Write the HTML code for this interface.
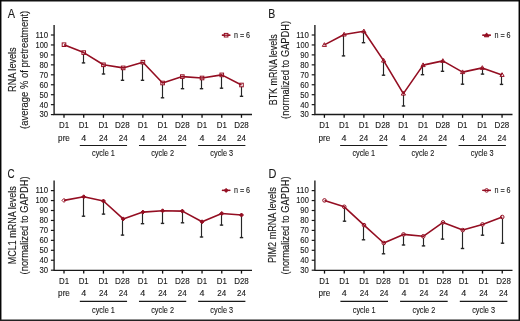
<!DOCTYPE html>
<html><head><meta charset="utf-8"><style>
html,body{margin:0;padding:0;background:#fff;}
body{width:520px;height:321px;overflow:hidden;}
svg{display:block;will-change:transform;font-family:"Liberation Sans",sans-serif;}
text{fill:#1a1a1a;stroke:#1a1a1a;stroke-width:0.12px;}
</style></head><body>
<svg width="520" height="321" viewBox="0 0 520 321">
<rect x="0" y="0" width="520" height="321" fill="#fff"/>
<path d="M54.1,25 V114.5 H252" fill="none" stroke="#1a1a1a" stroke-width="1.35"/>
<path d="M50.90,35.00 H54.1" stroke="#1a1a1a" stroke-width="1.2"/>
<text x="48.00" y="37.85" font-size="8.6" text-anchor="end" textLength="12.5" lengthAdjust="spacingAndGlyphs">110</text>
<path d="M50.90,44.95 H54.1" stroke="#1a1a1a" stroke-width="1.2"/>
<text x="48.00" y="47.80" font-size="8.6" text-anchor="end" textLength="12.5" lengthAdjust="spacingAndGlyphs">100</text>
<path d="M50.90,54.90 H54.1" stroke="#1a1a1a" stroke-width="1.2"/>
<text x="48.00" y="57.75" font-size="8.6" text-anchor="end" textLength="8.6" lengthAdjust="spacingAndGlyphs">90</text>
<path d="M50.90,64.85 H54.1" stroke="#1a1a1a" stroke-width="1.2"/>
<text x="48.00" y="67.70" font-size="8.6" text-anchor="end" textLength="8.6" lengthAdjust="spacingAndGlyphs">80</text>
<path d="M50.90,74.80 H54.1" stroke="#1a1a1a" stroke-width="1.2"/>
<text x="48.00" y="77.65" font-size="8.6" text-anchor="end" textLength="8.6" lengthAdjust="spacingAndGlyphs">70</text>
<path d="M50.90,84.75 H54.1" stroke="#1a1a1a" stroke-width="1.2"/>
<text x="48.00" y="87.60" font-size="8.6" text-anchor="end" textLength="8.6" lengthAdjust="spacingAndGlyphs">60</text>
<path d="M50.90,94.70 H54.1" stroke="#1a1a1a" stroke-width="1.2"/>
<text x="48.00" y="97.55" font-size="8.6" text-anchor="end" textLength="8.6" lengthAdjust="spacingAndGlyphs">50</text>
<path d="M50.90,104.65 H54.1" stroke="#1a1a1a" stroke-width="1.2"/>
<text x="48.00" y="107.50" font-size="8.6" text-anchor="end" textLength="8.6" lengthAdjust="spacingAndGlyphs">40</text>
<path d="M50.90,114.60 H54.1" stroke="#1a1a1a" stroke-width="1.2"/>
<text x="48.00" y="117.45" font-size="8.6" text-anchor="end" textLength="8.6" lengthAdjust="spacingAndGlyphs">30</text>
<path d="M64.00,114.5 V117.80" stroke="#111" stroke-width="1.3"/>
<text x="64.00" y="128.40" font-size="8.6" text-anchor="middle" textLength="10.1" lengthAdjust="spacingAndGlyphs">D1</text>
<text x="64.00" y="141.00" font-size="8.6" text-anchor="middle" textLength="11.8" lengthAdjust="spacingAndGlyphs">pre</text>
<path d="M83.72,114.5 V117.80" stroke="#111" stroke-width="1.3"/>
<text x="83.72" y="128.40" font-size="8.6" text-anchor="middle" textLength="10.1" lengthAdjust="spacingAndGlyphs">D1</text>
<text x="83.72" y="141.00" font-size="8.6" text-anchor="middle" textLength="5.0" lengthAdjust="spacingAndGlyphs">4</text>
<path d="M103.44,114.5 V117.80" stroke="#111" stroke-width="1.3"/>
<text x="103.44" y="128.40" font-size="8.6" text-anchor="middle" textLength="10.1" lengthAdjust="spacingAndGlyphs">D1</text>
<text x="103.44" y="141.00" font-size="8.6" text-anchor="middle" textLength="8.9" lengthAdjust="spacingAndGlyphs">24</text>
<path d="M123.16,114.5 V117.80" stroke="#111" stroke-width="1.3"/>
<text x="122.36" y="128.40" font-size="8.6" text-anchor="middle" textLength="14.7" lengthAdjust="spacingAndGlyphs">D28</text>
<text x="123.16" y="141.00" font-size="8.6" text-anchor="middle" textLength="8.9" lengthAdjust="spacingAndGlyphs">24</text>
<path d="M142.88,114.5 V117.80" stroke="#111" stroke-width="1.3"/>
<text x="142.88" y="128.40" font-size="8.6" text-anchor="middle" textLength="10.1" lengthAdjust="spacingAndGlyphs">D1</text>
<text x="142.88" y="141.00" font-size="8.6" text-anchor="middle" textLength="5.0" lengthAdjust="spacingAndGlyphs">4</text>
<path d="M162.60,114.5 V117.80" stroke="#111" stroke-width="1.3"/>
<text x="162.60" y="128.40" font-size="8.6" text-anchor="middle" textLength="10.1" lengthAdjust="spacingAndGlyphs">D1</text>
<text x="162.60" y="141.00" font-size="8.6" text-anchor="middle" textLength="8.9" lengthAdjust="spacingAndGlyphs">24</text>
<path d="M182.32,114.5 V117.80" stroke="#111" stroke-width="1.3"/>
<text x="182.32" y="128.40" font-size="8.6" text-anchor="middle" textLength="14.7" lengthAdjust="spacingAndGlyphs">D28</text>
<text x="182.32" y="141.00" font-size="8.6" text-anchor="middle" textLength="8.9" lengthAdjust="spacingAndGlyphs">24</text>
<path d="M202.04,114.5 V117.80" stroke="#111" stroke-width="1.3"/>
<text x="202.04" y="128.40" font-size="8.6" text-anchor="middle" textLength="10.1" lengthAdjust="spacingAndGlyphs">D1</text>
<text x="202.04" y="141.00" font-size="8.6" text-anchor="middle" textLength="5.0" lengthAdjust="spacingAndGlyphs">4</text>
<path d="M221.76,114.5 V117.80" stroke="#111" stroke-width="1.3"/>
<text x="221.76" y="128.40" font-size="8.6" text-anchor="middle" textLength="10.1" lengthAdjust="spacingAndGlyphs">D1</text>
<text x="221.76" y="141.00" font-size="8.6" text-anchor="middle" textLength="8.9" lengthAdjust="spacingAndGlyphs">24</text>
<path d="M241.48,114.5 V117.80" stroke="#111" stroke-width="1.3"/>
<text x="241.48" y="128.40" font-size="8.6" text-anchor="middle" textLength="14.7" lengthAdjust="spacingAndGlyphs">D28</text>
<text x="241.48" y="141.00" font-size="8.6" text-anchor="middle" textLength="8.9" lengthAdjust="spacingAndGlyphs">24</text>
<path d="M79.82,145.50 H127.06" stroke="#1a1a1a" stroke-width="1.1"/>
<text x="103.44" y="155.80" font-size="8.6" text-anchor="middle" textLength="22.8" lengthAdjust="spacingAndGlyphs">cycle 1</text>
<path d="M138.98,145.50 H186.22" stroke="#1a1a1a" stroke-width="1.1"/>
<text x="162.60" y="155.80" font-size="8.6" text-anchor="middle" textLength="22.8" lengthAdjust="spacingAndGlyphs">cycle 2</text>
<path d="M198.14,145.50 H245.38" stroke="#1a1a1a" stroke-width="1.1"/>
<text x="221.76" y="155.80" font-size="8.6" text-anchor="middle" textLength="22.8" lengthAdjust="spacingAndGlyphs">cycle 3</text>
<path d="M83.50,52.60 V63.10" stroke="#262626" stroke-width="1.15" fill="none"/>
<path d="M81.80,62.90 H85.20" stroke="#262626" stroke-width="1.4" fill="none"/>
<path d="M103.50,64.80 V74.20" stroke="#262626" stroke-width="1.15" fill="none"/>
<path d="M101.80,74.00 H105.20" stroke="#262626" stroke-width="1.4" fill="none"/>
<path d="M122.50,67.90 V80.50" stroke="#262626" stroke-width="1.15" fill="none"/>
<path d="M120.80,80.30 H124.20" stroke="#262626" stroke-width="1.4" fill="none"/>
<path d="M142.50,62.20 V80.50" stroke="#262626" stroke-width="1.15" fill="none"/>
<path d="M140.80,80.30 H144.20" stroke="#262626" stroke-width="1.4" fill="none"/>
<path d="M162.50,83.00 V98.00" stroke="#262626" stroke-width="1.15" fill="none"/>
<path d="M160.80,97.80 H164.20" stroke="#262626" stroke-width="1.4" fill="none"/>
<path d="M182.50,76.60 V88.90" stroke="#262626" stroke-width="1.15" fill="none"/>
<path d="M180.80,88.70 H184.20" stroke="#262626" stroke-width="1.4" fill="none"/>
<path d="M201.50,78.00 V88.90" stroke="#262626" stroke-width="1.15" fill="none"/>
<path d="M199.80,88.70 H203.20" stroke="#262626" stroke-width="1.4" fill="none"/>
<path d="M221.50,74.90 V88.40" stroke="#262626" stroke-width="1.15" fill="none"/>
<path d="M219.80,88.20 H223.20" stroke="#262626" stroke-width="1.4" fill="none"/>
<path d="M241.50,85.00 V96.50" stroke="#262626" stroke-width="1.15" fill="none"/>
<path d="M239.80,96.30 H243.20" stroke="#262626" stroke-width="1.4" fill="none"/>
<rect x="62.20" y="42.90" width="3.6" height="3.6" fill="#fff" stroke="#940e22" stroke-width="1"/>
<rect x="81.92" y="50.80" width="3.6" height="3.6" fill="#fff" stroke="#940e22" stroke-width="1"/>
<rect x="101.64" y="63.00" width="3.6" height="3.6" fill="#fff" stroke="#940e22" stroke-width="1"/>
<rect x="121.36" y="66.10" width="3.6" height="3.6" fill="#fff" stroke="#940e22" stroke-width="1"/>
<rect x="141.08" y="60.40" width="3.6" height="3.6" fill="#fff" stroke="#940e22" stroke-width="1"/>
<rect x="160.80" y="81.20" width="3.6" height="3.6" fill="#fff" stroke="#940e22" stroke-width="1"/>
<rect x="180.52" y="74.80" width="3.6" height="3.6" fill="#fff" stroke="#940e22" stroke-width="1"/>
<rect x="200.24" y="76.20" width="3.6" height="3.6" fill="#fff" stroke="#940e22" stroke-width="1"/>
<rect x="219.96" y="73.10" width="3.6" height="3.6" fill="#fff" stroke="#940e22" stroke-width="1"/>
<rect x="239.68" y="83.20" width="3.6" height="3.6" fill="#fff" stroke="#940e22" stroke-width="1"/>
<path d="M64.00,44.70 L83.72,52.60 L103.44,64.80 L123.16,67.90 L142.88,62.20 L162.60,83.00 L182.32,76.60 L202.04,78.00 L221.76,74.90 L241.48,85.00" fill="none" stroke="#940e22" stroke-width="1.6" stroke-linejoin="round"/>
<path d="M221.90,35.20 H230.30" stroke="#940e22" stroke-width="1.3"/>
<rect x="224.30" y="33.40" width="3.6" height="3.6" fill="#fff" stroke="#940e22" stroke-width="1"/>
<path d="M221.90,35.20 H230.30" stroke="#940e22" stroke-width="1.3"/>
<text x="233.90" y="37.80" font-size="8.6" text-anchor="start" textLength="16.2" lengthAdjust="spacingAndGlyphs">n = 6</text>
<text transform="translate(15.80,69.62) rotate(-90)" font-size="10.2" text-anchor="middle" textLength="44.55" lengthAdjust="spacingAndGlyphs">RNA levels</text>
<text transform="translate(27.80,69.88) rotate(-90)" font-size="10.2" text-anchor="middle" textLength="118.05" lengthAdjust="spacingAndGlyphs">(average % of pretreatment)</text>
<text x="7.7" y="17.6" font-size="12.4" textLength="7.3" lengthAdjust="spacingAndGlyphs">A</text>
<path d="M314.9,25 V114.5 H512.5" fill="none" stroke="#1a1a1a" stroke-width="1.35"/>
<path d="M311.70,35.00 H314.9" stroke="#1a1a1a" stroke-width="1.2"/>
<text x="308.80" y="37.85" font-size="8.6" text-anchor="end" textLength="12.5" lengthAdjust="spacingAndGlyphs">110</text>
<path d="M311.70,44.95 H314.9" stroke="#1a1a1a" stroke-width="1.2"/>
<text x="308.80" y="47.80" font-size="8.6" text-anchor="end" textLength="12.5" lengthAdjust="spacingAndGlyphs">100</text>
<path d="M311.70,54.90 H314.9" stroke="#1a1a1a" stroke-width="1.2"/>
<text x="308.80" y="57.75" font-size="8.6" text-anchor="end" textLength="8.6" lengthAdjust="spacingAndGlyphs">90</text>
<path d="M311.70,64.85 H314.9" stroke="#1a1a1a" stroke-width="1.2"/>
<text x="308.80" y="67.70" font-size="8.6" text-anchor="end" textLength="8.6" lengthAdjust="spacingAndGlyphs">80</text>
<path d="M311.70,74.80 H314.9" stroke="#1a1a1a" stroke-width="1.2"/>
<text x="308.80" y="77.65" font-size="8.6" text-anchor="end" textLength="8.6" lengthAdjust="spacingAndGlyphs">70</text>
<path d="M311.70,84.75 H314.9" stroke="#1a1a1a" stroke-width="1.2"/>
<text x="308.80" y="87.60" font-size="8.6" text-anchor="end" textLength="8.6" lengthAdjust="spacingAndGlyphs">60</text>
<path d="M311.70,94.70 H314.9" stroke="#1a1a1a" stroke-width="1.2"/>
<text x="308.80" y="97.55" font-size="8.6" text-anchor="end" textLength="8.6" lengthAdjust="spacingAndGlyphs">50</text>
<path d="M311.70,104.65 H314.9" stroke="#1a1a1a" stroke-width="1.2"/>
<text x="308.80" y="107.50" font-size="8.6" text-anchor="end" textLength="8.6" lengthAdjust="spacingAndGlyphs">40</text>
<path d="M311.70,114.60 H314.9" stroke="#1a1a1a" stroke-width="1.2"/>
<text x="308.80" y="117.45" font-size="8.6" text-anchor="end" textLength="8.6" lengthAdjust="spacingAndGlyphs">30</text>
<path d="M324.40,114.5 V117.80" stroke="#111" stroke-width="1.3"/>
<text x="324.30" y="128.40" font-size="8.6" text-anchor="middle" textLength="10.1" lengthAdjust="spacingAndGlyphs">D1</text>
<text x="324.30" y="141.00" font-size="8.6" text-anchor="middle" textLength="11.8" lengthAdjust="spacingAndGlyphs">pre</text>
<path d="M344.14,114.5 V117.80" stroke="#111" stroke-width="1.3"/>
<text x="344.04" y="128.40" font-size="8.6" text-anchor="middle" textLength="10.1" lengthAdjust="spacingAndGlyphs">D1</text>
<text x="344.04" y="141.00" font-size="8.6" text-anchor="middle" textLength="5.0" lengthAdjust="spacingAndGlyphs">4</text>
<path d="M363.88,114.5 V117.80" stroke="#111" stroke-width="1.3"/>
<text x="363.78" y="128.40" font-size="8.6" text-anchor="middle" textLength="10.1" lengthAdjust="spacingAndGlyphs">D1</text>
<text x="363.78" y="141.00" font-size="8.6" text-anchor="middle" textLength="8.9" lengthAdjust="spacingAndGlyphs">24</text>
<path d="M383.62,114.5 V117.80" stroke="#111" stroke-width="1.3"/>
<text x="382.72" y="128.40" font-size="8.6" text-anchor="middle" textLength="14.7" lengthAdjust="spacingAndGlyphs">D28</text>
<text x="383.52" y="141.00" font-size="8.6" text-anchor="middle" textLength="8.9" lengthAdjust="spacingAndGlyphs">24</text>
<path d="M403.36,114.5 V117.80" stroke="#111" stroke-width="1.3"/>
<text x="403.26" y="128.40" font-size="8.6" text-anchor="middle" textLength="10.1" lengthAdjust="spacingAndGlyphs">D1</text>
<text x="403.26" y="141.00" font-size="8.6" text-anchor="middle" textLength="5.0" lengthAdjust="spacingAndGlyphs">4</text>
<path d="M423.10,114.5 V117.80" stroke="#111" stroke-width="1.3"/>
<text x="423.00" y="128.40" font-size="8.6" text-anchor="middle" textLength="10.1" lengthAdjust="spacingAndGlyphs">D1</text>
<text x="423.00" y="141.00" font-size="8.6" text-anchor="middle" textLength="8.9" lengthAdjust="spacingAndGlyphs">24</text>
<path d="M442.84,114.5 V117.80" stroke="#111" stroke-width="1.3"/>
<text x="442.74" y="128.40" font-size="8.6" text-anchor="middle" textLength="14.7" lengthAdjust="spacingAndGlyphs">D28</text>
<text x="442.74" y="141.00" font-size="8.6" text-anchor="middle" textLength="8.9" lengthAdjust="spacingAndGlyphs">24</text>
<path d="M462.58,114.5 V117.80" stroke="#111" stroke-width="1.3"/>
<text x="462.48" y="128.40" font-size="8.6" text-anchor="middle" textLength="10.1" lengthAdjust="spacingAndGlyphs">D1</text>
<text x="462.48" y="141.00" font-size="8.6" text-anchor="middle" textLength="5.0" lengthAdjust="spacingAndGlyphs">4</text>
<path d="M482.32,114.5 V117.80" stroke="#111" stroke-width="1.3"/>
<text x="482.22" y="128.40" font-size="8.6" text-anchor="middle" textLength="10.1" lengthAdjust="spacingAndGlyphs">D1</text>
<text x="482.22" y="141.00" font-size="8.6" text-anchor="middle" textLength="8.9" lengthAdjust="spacingAndGlyphs">24</text>
<path d="M502.06,114.5 V117.80" stroke="#111" stroke-width="1.3"/>
<text x="501.96" y="128.40" font-size="8.6" text-anchor="middle" textLength="14.7" lengthAdjust="spacingAndGlyphs">D28</text>
<text x="501.96" y="141.00" font-size="8.6" text-anchor="middle" textLength="8.9" lengthAdjust="spacingAndGlyphs">24</text>
<path d="M340.14,145.50 H387.42" stroke="#1a1a1a" stroke-width="1.1"/>
<text x="363.78" y="155.80" font-size="8.6" text-anchor="middle" textLength="22.8" lengthAdjust="spacingAndGlyphs">cycle 1</text>
<path d="M399.36,145.50 H446.64" stroke="#1a1a1a" stroke-width="1.1"/>
<text x="423.00" y="155.80" font-size="8.6" text-anchor="middle" textLength="22.8" lengthAdjust="spacingAndGlyphs">cycle 2</text>
<path d="M458.58,145.50 H505.86" stroke="#1a1a1a" stroke-width="1.1"/>
<text x="482.22" y="155.80" font-size="8.6" text-anchor="middle" textLength="22.8" lengthAdjust="spacingAndGlyphs">cycle 3</text>
<path d="M343.50,34.50 V56.10" stroke="#262626" stroke-width="1.15" fill="none"/>
<path d="M341.80,55.90 H345.20" stroke="#262626" stroke-width="1.4" fill="none"/>
<path d="M363.50,31.30 V42.90" stroke="#262626" stroke-width="1.15" fill="none"/>
<path d="M361.80,42.70 H365.20" stroke="#262626" stroke-width="1.4" fill="none"/>
<path d="M383.50,60.60 V75.40" stroke="#262626" stroke-width="1.15" fill="none"/>
<path d="M381.80,75.20 H385.20" stroke="#262626" stroke-width="1.4" fill="none"/>
<path d="M403.50,93.60 V106.20" stroke="#262626" stroke-width="1.15" fill="none"/>
<path d="M401.80,106.00 H405.20" stroke="#262626" stroke-width="1.4" fill="none"/>
<path d="M422.50,65.10 V74.90" stroke="#262626" stroke-width="1.15" fill="none"/>
<path d="M420.80,74.70 H424.20" stroke="#262626" stroke-width="1.4" fill="none"/>
<path d="M442.50,60.90 V71.50" stroke="#262626" stroke-width="1.15" fill="none"/>
<path d="M440.80,71.30 H444.20" stroke="#262626" stroke-width="1.4" fill="none"/>
<path d="M462.50,72.10 V84.40" stroke="#262626" stroke-width="1.15" fill="none"/>
<path d="M460.80,84.20 H464.20" stroke="#262626" stroke-width="1.4" fill="none"/>
<path d="M482.50,67.90 V74.30" stroke="#262626" stroke-width="1.15" fill="none"/>
<path d="M480.80,74.10 H484.20" stroke="#262626" stroke-width="1.4" fill="none"/>
<path d="M501.50,74.90 V84.60" stroke="#262626" stroke-width="1.15" fill="none"/>
<path d="M499.80,84.40 H503.20" stroke="#262626" stroke-width="1.4" fill="none"/>
<path d="M324.40,42.70 L326.50,46.40 L322.30,46.40 Z" fill="#fff" stroke="#940e22" stroke-width="1"/>
<path d="M344.14,32.30 L346.24,36.00 L342.04,36.00 Z" fill="#fff" stroke="#940e22" stroke-width="1"/>
<path d="M363.88,29.10 L365.98,32.80 L361.78,32.80 Z" fill="#fff" stroke="#940e22" stroke-width="1"/>
<path d="M383.62,58.40 L385.72,62.10 L381.52,62.10 Z" fill="#fff" stroke="#940e22" stroke-width="1"/>
<path d="M403.36,91.40 L405.46,95.10 L401.26,95.10 Z" fill="#fff" stroke="#940e22" stroke-width="1"/>
<path d="M423.10,62.90 L425.20,66.60 L421.00,66.60 Z" fill="#fff" stroke="#940e22" stroke-width="1"/>
<path d="M442.84,58.70 L444.94,62.40 L440.74,62.40 Z" fill="#fff" stroke="#940e22" stroke-width="1"/>
<path d="M462.58,69.90 L464.68,73.60 L460.48,73.60 Z" fill="#fff" stroke="#940e22" stroke-width="1"/>
<path d="M482.32,65.70 L484.42,69.40 L480.22,69.40 Z" fill="#fff" stroke="#940e22" stroke-width="1"/>
<path d="M502.06,72.70 L504.16,76.40 L499.96,76.40 Z" fill="#fff" stroke="#940e22" stroke-width="1"/>
<path d="M324.40,44.90 L344.14,34.50 L363.88,31.30 L383.62,60.60 L403.36,93.60 L423.10,65.10 L442.84,60.90 L462.58,72.10 L482.32,67.90 L502.06,74.90" fill="none" stroke="#940e22" stroke-width="1.6" stroke-linejoin="round"/>
<path d="M482.40,35.20 H490.80" stroke="#940e22" stroke-width="1.3"/>
<path d="M486.60,32.90 L488.90,36.80 L484.30,36.80 Z" fill="#940e22" stroke="#940e22" stroke-width="1"/>
<path d="M482.40,35.20 H490.80" stroke="#940e22" stroke-width="1.3"/>
<text x="494.40" y="37.80" font-size="8.6" text-anchor="start" textLength="16.2" lengthAdjust="spacingAndGlyphs">n = 6</text>
<text transform="translate(276.70,69.80) rotate(-90)" font-size="10.2" text-anchor="middle" textLength="71.00" lengthAdjust="spacingAndGlyphs">BTK mRNA levels</text>
<text transform="translate(288.60,69.85) rotate(-90)" font-size="10.2" text-anchor="middle" textLength="98.10" lengthAdjust="spacingAndGlyphs">(normalized to GAPDH)</text>
<text x="268.2" y="17.8" font-size="12.4" textLength="7.0" lengthAdjust="spacingAndGlyphs">B</text>
<path d="M54.1,180.6 V270.3 H252" fill="none" stroke="#1a1a1a" stroke-width="1.35"/>
<path d="M50.90,190.60 H54.1" stroke="#1a1a1a" stroke-width="1.2"/>
<text x="48.00" y="193.45" font-size="8.6" text-anchor="end" textLength="12.5" lengthAdjust="spacingAndGlyphs">110</text>
<path d="M50.90,200.55 H54.1" stroke="#1a1a1a" stroke-width="1.2"/>
<text x="48.00" y="203.40" font-size="8.6" text-anchor="end" textLength="12.5" lengthAdjust="spacingAndGlyphs">100</text>
<path d="M50.90,210.50 H54.1" stroke="#1a1a1a" stroke-width="1.2"/>
<text x="48.00" y="213.35" font-size="8.6" text-anchor="end" textLength="8.6" lengthAdjust="spacingAndGlyphs">90</text>
<path d="M50.90,220.45 H54.1" stroke="#1a1a1a" stroke-width="1.2"/>
<text x="48.00" y="223.30" font-size="8.6" text-anchor="end" textLength="8.6" lengthAdjust="spacingAndGlyphs">80</text>
<path d="M50.90,230.40 H54.1" stroke="#1a1a1a" stroke-width="1.2"/>
<text x="48.00" y="233.25" font-size="8.6" text-anchor="end" textLength="8.6" lengthAdjust="spacingAndGlyphs">70</text>
<path d="M50.90,240.35 H54.1" stroke="#1a1a1a" stroke-width="1.2"/>
<text x="48.00" y="243.20" font-size="8.6" text-anchor="end" textLength="8.6" lengthAdjust="spacingAndGlyphs">60</text>
<path d="M50.90,250.30 H54.1" stroke="#1a1a1a" stroke-width="1.2"/>
<text x="48.00" y="253.15" font-size="8.6" text-anchor="end" textLength="8.6" lengthAdjust="spacingAndGlyphs">50</text>
<path d="M50.90,260.25 H54.1" stroke="#1a1a1a" stroke-width="1.2"/>
<text x="48.00" y="263.10" font-size="8.6" text-anchor="end" textLength="8.6" lengthAdjust="spacingAndGlyphs">40</text>
<path d="M50.90,270.20 H54.1" stroke="#1a1a1a" stroke-width="1.2"/>
<text x="48.00" y="273.05" font-size="8.6" text-anchor="end" textLength="8.6" lengthAdjust="spacingAndGlyphs">30</text>
<path d="M64.00,270.3 V273.60" stroke="#111" stroke-width="1.3"/>
<text x="64.00" y="284.20" font-size="8.6" text-anchor="middle" textLength="10.1" lengthAdjust="spacingAndGlyphs">D1</text>
<text x="64.00" y="296.20" font-size="8.6" text-anchor="middle" textLength="11.8" lengthAdjust="spacingAndGlyphs">pre</text>
<path d="M83.72,270.3 V273.60" stroke="#111" stroke-width="1.3"/>
<text x="83.72" y="284.20" font-size="8.6" text-anchor="middle" textLength="10.1" lengthAdjust="spacingAndGlyphs">D1</text>
<text x="83.72" y="296.20" font-size="8.6" text-anchor="middle" textLength="5.0" lengthAdjust="spacingAndGlyphs">4</text>
<path d="M103.44,270.3 V273.60" stroke="#111" stroke-width="1.3"/>
<text x="103.44" y="284.20" font-size="8.6" text-anchor="middle" textLength="10.1" lengthAdjust="spacingAndGlyphs">D1</text>
<text x="103.44" y="296.20" font-size="8.6" text-anchor="middle" textLength="8.9" lengthAdjust="spacingAndGlyphs">24</text>
<path d="M123.16,270.3 V273.60" stroke="#111" stroke-width="1.3"/>
<text x="122.36" y="284.20" font-size="8.6" text-anchor="middle" textLength="14.7" lengthAdjust="spacingAndGlyphs">D28</text>
<text x="123.16" y="296.20" font-size="8.6" text-anchor="middle" textLength="8.9" lengthAdjust="spacingAndGlyphs">24</text>
<path d="M142.88,270.3 V273.60" stroke="#111" stroke-width="1.3"/>
<text x="142.88" y="284.20" font-size="8.6" text-anchor="middle" textLength="10.1" lengthAdjust="spacingAndGlyphs">D1</text>
<text x="142.88" y="296.20" font-size="8.6" text-anchor="middle" textLength="5.0" lengthAdjust="spacingAndGlyphs">4</text>
<path d="M162.60,270.3 V273.60" stroke="#111" stroke-width="1.3"/>
<text x="162.60" y="284.20" font-size="8.6" text-anchor="middle" textLength="10.1" lengthAdjust="spacingAndGlyphs">D1</text>
<text x="162.60" y="296.20" font-size="8.6" text-anchor="middle" textLength="8.9" lengthAdjust="spacingAndGlyphs">24</text>
<path d="M182.32,270.3 V273.60" stroke="#111" stroke-width="1.3"/>
<text x="182.32" y="284.20" font-size="8.6" text-anchor="middle" textLength="14.7" lengthAdjust="spacingAndGlyphs">D28</text>
<text x="182.32" y="296.20" font-size="8.6" text-anchor="middle" textLength="8.9" lengthAdjust="spacingAndGlyphs">24</text>
<path d="M202.04,270.3 V273.60" stroke="#111" stroke-width="1.3"/>
<text x="202.04" y="284.20" font-size="8.6" text-anchor="middle" textLength="10.1" lengthAdjust="spacingAndGlyphs">D1</text>
<text x="202.04" y="296.20" font-size="8.6" text-anchor="middle" textLength="5.0" lengthAdjust="spacingAndGlyphs">4</text>
<path d="M221.76,270.3 V273.60" stroke="#111" stroke-width="1.3"/>
<text x="221.76" y="284.20" font-size="8.6" text-anchor="middle" textLength="10.1" lengthAdjust="spacingAndGlyphs">D1</text>
<text x="221.76" y="296.20" font-size="8.6" text-anchor="middle" textLength="8.9" lengthAdjust="spacingAndGlyphs">24</text>
<path d="M241.48,270.3 V273.60" stroke="#111" stroke-width="1.3"/>
<text x="241.48" y="284.20" font-size="8.6" text-anchor="middle" textLength="14.7" lengthAdjust="spacingAndGlyphs">D28</text>
<text x="241.48" y="296.20" font-size="8.6" text-anchor="middle" textLength="8.9" lengthAdjust="spacingAndGlyphs">24</text>
<path d="M79.82,301.40 H127.06" stroke="#1a1a1a" stroke-width="1.1"/>
<text x="103.44" y="312.50" font-size="8.6" text-anchor="middle" textLength="22.8" lengthAdjust="spacingAndGlyphs">cycle 1</text>
<path d="M138.98,301.40 H186.22" stroke="#1a1a1a" stroke-width="1.1"/>
<text x="162.60" y="312.50" font-size="8.6" text-anchor="middle" textLength="22.8" lengthAdjust="spacingAndGlyphs">cycle 2</text>
<path d="M198.14,301.40 H245.38" stroke="#1a1a1a" stroke-width="1.1"/>
<text x="221.76" y="312.50" font-size="8.6" text-anchor="middle" textLength="22.8" lengthAdjust="spacingAndGlyphs">cycle 3</text>
<path d="M83.50,196.80 V216.40" stroke="#262626" stroke-width="1.15" fill="none"/>
<path d="M81.80,216.20 H85.20" stroke="#262626" stroke-width="1.4" fill="none"/>
<path d="M103.50,201.00 V214.30" stroke="#262626" stroke-width="1.15" fill="none"/>
<path d="M101.80,214.10 H105.20" stroke="#262626" stroke-width="1.4" fill="none"/>
<path d="M122.50,218.90 V235.30" stroke="#262626" stroke-width="1.15" fill="none"/>
<path d="M120.80,235.10 H124.20" stroke="#262626" stroke-width="1.4" fill="none"/>
<path d="M142.50,212.10 V223.90" stroke="#262626" stroke-width="1.15" fill="none"/>
<path d="M140.80,223.70 H144.20" stroke="#262626" stroke-width="1.4" fill="none"/>
<path d="M162.50,210.80 V223.60" stroke="#262626" stroke-width="1.15" fill="none"/>
<path d="M160.80,223.40 H164.20" stroke="#262626" stroke-width="1.4" fill="none"/>
<path d="M182.50,211.10 V223.00" stroke="#262626" stroke-width="1.15" fill="none"/>
<path d="M180.80,222.80 H184.20" stroke="#262626" stroke-width="1.4" fill="none"/>
<path d="M201.50,221.80 V237.20" stroke="#262626" stroke-width="1.15" fill="none"/>
<path d="M199.80,237.00 H203.20" stroke="#262626" stroke-width="1.4" fill="none"/>
<path d="M221.50,213.50 V225.30" stroke="#262626" stroke-width="1.15" fill="none"/>
<path d="M219.80,225.10 H223.20" stroke="#262626" stroke-width="1.4" fill="none"/>
<path d="M241.50,215.00 V237.80" stroke="#262626" stroke-width="1.15" fill="none"/>
<path d="M239.80,237.60 H243.20" stroke="#262626" stroke-width="1.4" fill="none"/>
<path d="M64.00,198.40 L66.00,200.40 L64.00,202.40 L62.00,200.40 Z" fill="#fff" stroke="#940e22" stroke-width="1"/>
<path d="M83.72,194.80 L85.72,196.80 L83.72,198.80 L81.72,196.80 Z" fill="#940e22" stroke="#940e22" stroke-width="1"/>
<path d="M103.44,199.00 L105.44,201.00 L103.44,203.00 L101.44,201.00 Z" fill="#940e22" stroke="#940e22" stroke-width="1"/>
<path d="M123.16,216.90 L125.16,218.90 L123.16,220.90 L121.16,218.90 Z" fill="#940e22" stroke="#940e22" stroke-width="1"/>
<path d="M142.88,210.10 L144.88,212.10 L142.88,214.10 L140.88,212.10 Z" fill="#940e22" stroke="#940e22" stroke-width="1"/>
<path d="M162.60,208.80 L164.60,210.80 L162.60,212.80 L160.60,210.80 Z" fill="#940e22" stroke="#940e22" stroke-width="1"/>
<path d="M182.32,209.10 L184.32,211.10 L182.32,213.10 L180.32,211.10 Z" fill="#940e22" stroke="#940e22" stroke-width="1"/>
<path d="M202.04,219.80 L204.04,221.80 L202.04,223.80 L200.04,221.80 Z" fill="#940e22" stroke="#940e22" stroke-width="1"/>
<path d="M221.76,211.50 L223.76,213.50 L221.76,215.50 L219.76,213.50 Z" fill="#940e22" stroke="#940e22" stroke-width="1"/>
<path d="M241.48,213.00 L243.48,215.00 L241.48,217.00 L239.48,215.00 Z" fill="#940e22" stroke="#940e22" stroke-width="1"/>
<path d="M64.00,200.40 L83.72,196.80 L103.44,201.00 L123.16,218.90 L142.88,212.10 L162.60,210.80 L182.32,211.10 L202.04,221.80 L221.76,213.50 L241.48,215.00" fill="none" stroke="#940e22" stroke-width="1.6" stroke-linejoin="round"/>
<path d="M221.90,190.40 H230.30" stroke="#940e22" stroke-width="1.3"/>
<path d="M226.10,188.40 L228.10,190.40 L226.10,192.40 L224.10,190.40 Z" fill="#940e22" stroke="#940e22" stroke-width="1"/>
<path d="M221.90,190.40 H230.30" stroke="#940e22" stroke-width="1.3"/>
<text x="233.90" y="193.00" font-size="8.6" text-anchor="start" textLength="16.2" lengthAdjust="spacingAndGlyphs">n = 6</text>
<text transform="translate(15.70,225.25) rotate(-90)" font-size="10.2" text-anchor="middle" textLength="78.10" lengthAdjust="spacingAndGlyphs">MCL1 mRNA levels</text>
<text transform="translate(27.80,225.45) rotate(-90)" font-size="10.2" text-anchor="middle" textLength="97.90" lengthAdjust="spacingAndGlyphs">(normalized to GAPDH)</text>
<text x="7.4" y="177.8" font-size="12.4" textLength="7.1" lengthAdjust="spacingAndGlyphs">C</text>
<path d="M314.9,180.6 V270.3 H512.5" fill="none" stroke="#1a1a1a" stroke-width="1.35"/>
<path d="M311.70,190.60 H314.9" stroke="#1a1a1a" stroke-width="1.2"/>
<text x="308.80" y="193.45" font-size="8.6" text-anchor="end" textLength="12.5" lengthAdjust="spacingAndGlyphs">110</text>
<path d="M311.70,200.55 H314.9" stroke="#1a1a1a" stroke-width="1.2"/>
<text x="308.80" y="203.40" font-size="8.6" text-anchor="end" textLength="12.5" lengthAdjust="spacingAndGlyphs">100</text>
<path d="M311.70,210.50 H314.9" stroke="#1a1a1a" stroke-width="1.2"/>
<text x="308.80" y="213.35" font-size="8.6" text-anchor="end" textLength="8.6" lengthAdjust="spacingAndGlyphs">90</text>
<path d="M311.70,220.45 H314.9" stroke="#1a1a1a" stroke-width="1.2"/>
<text x="308.80" y="223.30" font-size="8.6" text-anchor="end" textLength="8.6" lengthAdjust="spacingAndGlyphs">80</text>
<path d="M311.70,230.40 H314.9" stroke="#1a1a1a" stroke-width="1.2"/>
<text x="308.80" y="233.25" font-size="8.6" text-anchor="end" textLength="8.6" lengthAdjust="spacingAndGlyphs">70</text>
<path d="M311.70,240.35 H314.9" stroke="#1a1a1a" stroke-width="1.2"/>
<text x="308.80" y="243.20" font-size="8.6" text-anchor="end" textLength="8.6" lengthAdjust="spacingAndGlyphs">60</text>
<path d="M311.70,250.30 H314.9" stroke="#1a1a1a" stroke-width="1.2"/>
<text x="308.80" y="253.15" font-size="8.6" text-anchor="end" textLength="8.6" lengthAdjust="spacingAndGlyphs">50</text>
<path d="M311.70,260.25 H314.9" stroke="#1a1a1a" stroke-width="1.2"/>
<text x="308.80" y="263.10" font-size="8.6" text-anchor="end" textLength="8.6" lengthAdjust="spacingAndGlyphs">40</text>
<path d="M311.70,270.20 H314.9" stroke="#1a1a1a" stroke-width="1.2"/>
<text x="308.80" y="273.05" font-size="8.6" text-anchor="end" textLength="8.6" lengthAdjust="spacingAndGlyphs">30</text>
<path d="M324.50,270.3 V273.60" stroke="#111" stroke-width="1.3"/>
<text x="324.40" y="284.20" font-size="8.6" text-anchor="middle" textLength="10.1" lengthAdjust="spacingAndGlyphs">D1</text>
<text x="324.40" y="296.20" font-size="8.6" text-anchor="middle" textLength="11.8" lengthAdjust="spacingAndGlyphs">pre</text>
<path d="M344.25,270.3 V273.60" stroke="#111" stroke-width="1.3"/>
<text x="344.30" y="284.20" font-size="8.6" text-anchor="middle" textLength="10.1" lengthAdjust="spacingAndGlyphs">D1</text>
<text x="344.30" y="296.20" font-size="8.6" text-anchor="middle" textLength="5.0" lengthAdjust="spacingAndGlyphs">4</text>
<path d="M364.00,270.3 V273.60" stroke="#111" stroke-width="1.3"/>
<text x="364.20" y="284.20" font-size="8.6" text-anchor="middle" textLength="10.1" lengthAdjust="spacingAndGlyphs">D1</text>
<text x="364.20" y="296.20" font-size="8.6" text-anchor="middle" textLength="8.9" lengthAdjust="spacingAndGlyphs">24</text>
<path d="M383.75,270.3 V273.60" stroke="#111" stroke-width="1.3"/>
<text x="383.30" y="284.20" font-size="8.6" text-anchor="middle" textLength="14.7" lengthAdjust="spacingAndGlyphs">D28</text>
<text x="384.10" y="296.20" font-size="8.6" text-anchor="middle" textLength="8.9" lengthAdjust="spacingAndGlyphs">24</text>
<path d="M403.50,270.3 V273.60" stroke="#111" stroke-width="1.3"/>
<text x="404.00" y="284.20" font-size="8.6" text-anchor="middle" textLength="10.1" lengthAdjust="spacingAndGlyphs">D1</text>
<text x="404.00" y="296.20" font-size="8.6" text-anchor="middle" textLength="5.0" lengthAdjust="spacingAndGlyphs">4</text>
<path d="M423.25,270.3 V273.60" stroke="#111" stroke-width="1.3"/>
<text x="423.90" y="284.20" font-size="8.6" text-anchor="middle" textLength="10.1" lengthAdjust="spacingAndGlyphs">D1</text>
<text x="423.90" y="296.20" font-size="8.6" text-anchor="middle" textLength="8.9" lengthAdjust="spacingAndGlyphs">24</text>
<path d="M443.00,270.3 V273.60" stroke="#111" stroke-width="1.3"/>
<text x="443.80" y="284.20" font-size="8.6" text-anchor="middle" textLength="14.7" lengthAdjust="spacingAndGlyphs">D28</text>
<text x="443.80" y="296.20" font-size="8.6" text-anchor="middle" textLength="8.9" lengthAdjust="spacingAndGlyphs">24</text>
<path d="M462.75,270.3 V273.60" stroke="#111" stroke-width="1.3"/>
<text x="463.70" y="284.20" font-size="8.6" text-anchor="middle" textLength="10.1" lengthAdjust="spacingAndGlyphs">D1</text>
<text x="463.70" y="296.20" font-size="8.6" text-anchor="middle" textLength="5.0" lengthAdjust="spacingAndGlyphs">4</text>
<path d="M482.50,270.3 V273.60" stroke="#111" stroke-width="1.3"/>
<text x="483.60" y="284.20" font-size="8.6" text-anchor="middle" textLength="10.1" lengthAdjust="spacingAndGlyphs">D1</text>
<text x="483.60" y="296.20" font-size="8.6" text-anchor="middle" textLength="8.9" lengthAdjust="spacingAndGlyphs">24</text>
<path d="M502.25,270.3 V273.60" stroke="#111" stroke-width="1.3"/>
<text x="503.50" y="284.20" font-size="8.6" text-anchor="middle" textLength="14.7" lengthAdjust="spacingAndGlyphs">D28</text>
<text x="503.50" y="296.20" font-size="8.6" text-anchor="middle" textLength="8.9" lengthAdjust="spacingAndGlyphs">24</text>
<path d="M340.40,301.40 H388.00" stroke="#1a1a1a" stroke-width="1.1"/>
<text x="364.20" y="312.50" font-size="8.6" text-anchor="middle" textLength="22.8" lengthAdjust="spacingAndGlyphs">cycle 1</text>
<path d="M400.10,301.40 H447.70" stroke="#1a1a1a" stroke-width="1.1"/>
<text x="423.90" y="312.50" font-size="8.6" text-anchor="middle" textLength="22.8" lengthAdjust="spacingAndGlyphs">cycle 2</text>
<path d="M459.80,301.40 H507.40" stroke="#1a1a1a" stroke-width="1.1"/>
<text x="483.60" y="312.50" font-size="8.6" text-anchor="middle" textLength="22.8" lengthAdjust="spacingAndGlyphs">cycle 3</text>
<path d="M344.50,206.80 V221.40" stroke="#262626" stroke-width="1.15" fill="none"/>
<path d="M342.80,221.20 H346.20" stroke="#262626" stroke-width="1.4" fill="none"/>
<path d="M363.50,225.10 V240.00" stroke="#262626" stroke-width="1.15" fill="none"/>
<path d="M361.80,239.80 H365.20" stroke="#262626" stroke-width="1.4" fill="none"/>
<path d="M383.50,243.00 V254.00" stroke="#262626" stroke-width="1.15" fill="none"/>
<path d="M381.80,253.80 H385.20" stroke="#262626" stroke-width="1.4" fill="none"/>
<path d="M403.50,234.40 V245.20" stroke="#262626" stroke-width="1.15" fill="none"/>
<path d="M401.80,245.00 H405.20" stroke="#262626" stroke-width="1.4" fill="none"/>
<path d="M423.50,236.30 V246.10" stroke="#262626" stroke-width="1.15" fill="none"/>
<path d="M421.80,245.90 H425.20" stroke="#262626" stroke-width="1.4" fill="none"/>
<path d="M442.50,222.40 V239.30" stroke="#262626" stroke-width="1.15" fill="none"/>
<path d="M440.80,239.10 H444.20" stroke="#262626" stroke-width="1.4" fill="none"/>
<path d="M462.50,230.10 V248.70" stroke="#262626" stroke-width="1.15" fill="none"/>
<path d="M460.80,248.50 H464.20" stroke="#262626" stroke-width="1.4" fill="none"/>
<path d="M482.50,224.40 V235.40" stroke="#262626" stroke-width="1.15" fill="none"/>
<path d="M480.80,235.20 H484.20" stroke="#262626" stroke-width="1.4" fill="none"/>
<path d="M502.50,217.00 V243.40" stroke="#262626" stroke-width="1.15" fill="none"/>
<path d="M500.80,243.20 H504.20" stroke="#262626" stroke-width="1.4" fill="none"/>
<circle cx="324.50" cy="200.40" r="1.8" fill="#fff" stroke="#940e22" stroke-width="1"/>
<circle cx="344.25" cy="206.80" r="1.8" fill="#fff" stroke="#940e22" stroke-width="1"/>
<circle cx="364.00" cy="225.10" r="1.8" fill="#fff" stroke="#940e22" stroke-width="1"/>
<circle cx="383.75" cy="243.00" r="1.8" fill="#fff" stroke="#940e22" stroke-width="1"/>
<circle cx="403.50" cy="234.40" r="1.8" fill="#fff" stroke="#940e22" stroke-width="1"/>
<circle cx="423.25" cy="236.30" r="1.8" fill="#fff" stroke="#940e22" stroke-width="1"/>
<circle cx="443.00" cy="222.40" r="1.8" fill="#fff" stroke="#940e22" stroke-width="1"/>
<circle cx="462.75" cy="230.10" r="1.8" fill="#fff" stroke="#940e22" stroke-width="1"/>
<circle cx="482.50" cy="224.40" r="1.8" fill="#fff" stroke="#940e22" stroke-width="1"/>
<circle cx="502.25" cy="217.00" r="1.8" fill="#fff" stroke="#940e22" stroke-width="1"/>
<path d="M324.50,200.40 L344.25,206.80 L364.00,225.10 L383.75,243.00 L403.50,234.40 L423.25,236.30 L443.00,222.40 L462.75,230.10 L482.50,224.40 L502.25,217.00" fill="none" stroke="#940e22" stroke-width="1.6" stroke-linejoin="round"/>
<path d="M482.40,190.40 H490.80" stroke="#940e22" stroke-width="1.3"/>
<circle cx="486.60" cy="190.40" r="1.8" fill="#fff" stroke="#940e22" stroke-width="1"/>
<path d="M482.40,190.40 H490.80" stroke="#940e22" stroke-width="1.3"/>
<text x="494.40" y="193.00" font-size="8.6" text-anchor="start" textLength="16.2" lengthAdjust="spacingAndGlyphs">n = 6</text>
<text transform="translate(276.10,225.20) rotate(-90)" font-size="10.2" text-anchor="middle" textLength="75.80" lengthAdjust="spacingAndGlyphs">PIM2 mRNA levels</text>
<text transform="translate(288.60,225.45) rotate(-90)" font-size="10.2" text-anchor="middle" textLength="97.90" lengthAdjust="spacingAndGlyphs">(normalized to GAPDH)</text>
<text x="268.6" y="177.8" font-size="12.4" textLength="7.8999999999999995" lengthAdjust="spacingAndGlyphs">D</text>
<path d="M0,0.7 H520" stroke="#111" stroke-width="1.5"/>
<path d="M0.7,0 V321" stroke="#050505" stroke-width="1.5"/>
<path d="M519.3,0 V321" stroke="#050505" stroke-width="1.5"/>
<path d="M0,320.3 H520" stroke="#222" stroke-width="1.5"/>
</svg>
</body></html>
